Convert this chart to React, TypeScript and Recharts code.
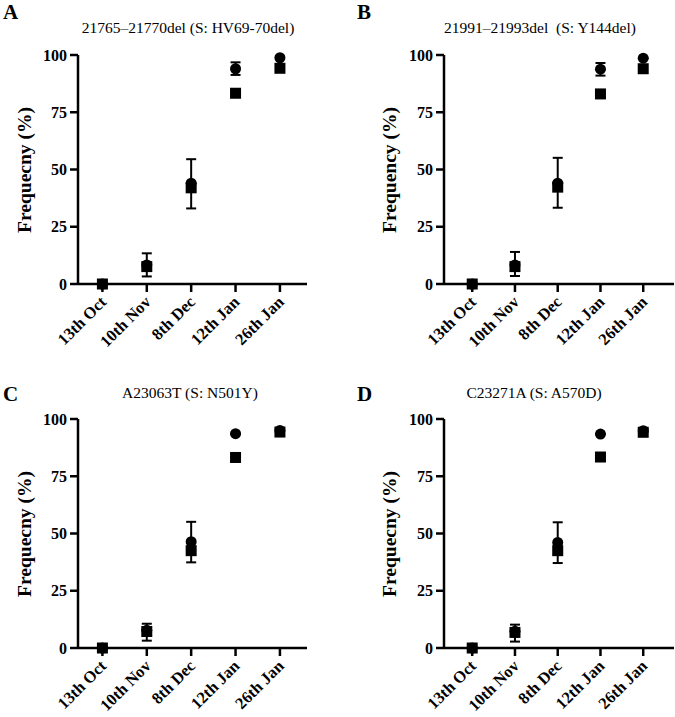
import React from "react";
import { ScatterChart, Scatter, XAxis, YAxis, ErrorBar } from "recharts";

const dates = ["13th Oct", "10th Nov", "8th Dec", "12th Jan", "26th Jan"];
const yTicks = [0, 25, 50, 75, 100];

// A: 21765-21770del
const aMean = [0, 8.3, 44, 94, 98.8];
const aLow = [0, 3.3, 33, 91.3, 98.8];
const aHigh = [0, 13.4, 54.5, 96.8, 98.8];
const aSquare = [0, 7.6, 42, 83.3, 94.2];

// B: 21991-21993del
const bMean = [0, 8.3, 44, 93.8, 98.6];
const bLow = [0, 3.5, 33.3, 91, 98.6];
const bHigh = [0, 14, 55.1, 96.5, 98.6];
const bSquare = [0, 7.6, 42.3, 83, 94];

// C: A23063T
const cMean = [0, 7.7, 46.4, 93.6, 95];
const cLow = [0, 3.2, 37.4, 93.6, 94.5];
const cHigh = [0, 10.6, 55.1, 93.6, 95.5];
const cSquare = [0, 7.2, 42.5, 83.2, 94.3];

// D: C23271A
const dMean = [0, 7.3, 46.1, 93.4, 94.9];
const dLow = [0, 2.8, 37.1, 93.4, 94.5];
const dHigh = [0, 10.2, 54.9, 93.4, 95.4];
const dSquare = [0, 6.8, 42.5, 83.4, 94.2];

const serif = '"Liberation Serif", "Times New Roman", serif';

const XTick = (props: any) => {
  const { x, y, payload } = props;
  return (
    <g transform={`translate(${x + 5},${y + 9})`}>
      <text
        x={0}
        y={0}
        textAnchor="end"
        transform="rotate(-45)"
        fontFamily={serif}
        fontWeight="bold"
        fontSize={16.5}
        fill="#000"
      >
        {dates[payload.value]}
      </text>
    </g>
  );
};

const Dot = (props: any) => <circle cx={props.cx} cy={props.cy} r={5.5} fill="#000" />;
const Square = (props: any) => (
  <rect x={props.cx - 5.5} y={props.cy - 5.5} width={11} height={11} fill="#000" />
);

function Panel({ letter, title, yLabel, mean, low, high, square, box, plot, xDomain, letterPos, titleX, titleY, labelX }: any) {
  const table = dates.map((d, i) => ({ x: i, y: mean[i], err: [mean[i] - low[i], high[i] - mean[i]] }));
  const squares = dates.map((d, i) => ({ x: i, y: square[i] }));
  const yAxisW = 40;
  const xAxisH = 60;
  const margin = {
    top: plot.top - box.top,
    left: plot.left - box.left - yAxisW,
    right: box.left + box.width - plot.right,
    bottom: box.top + box.height - plot.bottom - xAxisH,
  };
  return (
    <>
      <div style={{ position: "absolute", left: letterPos[0], top: letterPos[1], fontFamily: serif, fontWeight: "bold", fontSize: 21, lineHeight: 1 }}>
        {letter}
      </div>
      <div style={{ position: "absolute", left: titleX - 150, width: 300, top: titleY, textAlign: "center", fontFamily: serif, fontSize: 15.5, lineHeight: 1, whiteSpace: "pre" }}>
        {title}
      </div>
      <div
        style={{
          position: "absolute",
          left: labelX - 100,
          width: 200,
          top: (plot.top + plot.bottom) / 2 - 10,
          height: 20,
          lineHeight: "20px",
          textAlign: "center",
          transform: "rotate(-90deg)",
          fontFamily: serif,
          fontWeight: "bold",
          fontSize: 19.5,
          whiteSpace: "nowrap",
        }}
      >
        {yLabel}
      </div>
      <div style={{ position: "absolute", left: box.left, top: box.top }}>
        <ScatterChart width={box.width} height={box.height} margin={margin}>
          <XAxis
            type="number"
            dataKey="x"
            domain={xDomain}
            ticks={[0, 1, 2, 3, 4]}
            interval={0}
            height={xAxisH}
            tick={<XTick />}
            tickSize={8}
            stroke="#000"
            strokeWidth={2.5}
            allowDataOverflow
          />
          <YAxis
            type="number"
            dataKey="y"
            domain={[0, 100]}
            ticks={yTicks}
            interval={0}
            width={yAxisW}
            tickSize={8}
            tickMargin={3}
            stroke="#000"
            strokeWidth={2.5}
            tick={{ fill: "#000", fontFamily: serif, fontWeight: "bold", fontSize: 16 }}
          />
          <Scatter data={table} dataKey="y" shape={<Dot />} isAnimationActive={false}>
            <ErrorBar dataKey="err" direction="y" width={5} strokeWidth={2} stroke="#000" isAnimationActive={false} />
          </Scatter>
          <Scatter data={squares} dataKey="y" shape={<Square />} isAnimationActive={false} />
        </ScatterChart>
      </div>
    </>
  );
}

export default function App() {
  return (
    <div style={{ position: "absolute", left: 0, top: 0, width: 675, height: 717, background: "#fff", overflow: "hidden" }}>
      <Panel
        letter="A"
        title="21765–21770del (S: HV69-70del)"
        yLabel="Frequecny (%)"
        mean={aMean}
        low={aLow}
        high={aHigh}
        square={aSquare}
        box={{ left: 0, top: 0, width: 337, height: 358 }}
        plot={{ left: 78, right: 307, top: 55, bottom: 284 }}
        xDomain={[-0.55, 4.61]}
        letterPos={[3, 2]}
        titleX={188}
        titleY={20}
        labelX={25}
      />
      <Panel
        letter="B"
        title="21991–21993del  (S: Y144del)"
        yLabel="Frequency (%)"
        mean={bMean}
        low={bLow}
        high={bHigh}
        square={bSquare}
        box={{ left: 337, top: 0, width: 338, height: 358 }}
        plot={{ left: 444, right: 674, top: 55, bottom: 284 }}
        xDomain={[-0.66, 4.72]}
        letterPos={[357, 2]}
        titleX={540}
        titleY={20}
        labelX={390}
      />
      <Panel
        letter="C"
        title="A23063T (S: N501Y)"
        yLabel="Frequecny (%)"
        mean={cMean}
        low={cLow}
        high={cHigh}
        square={cSquare}
        box={{ left: 0, top: 360, width: 337, height: 357 }}
        plot={{ left: 78, right: 307, top: 419, bottom: 648 }}
        xDomain={[-0.55, 4.61]}
        letterPos={[3, 384]}
        titleX={190}
        titleY={385}
        labelX={25}
      />
      <Panel
        letter="D"
        title="C23271A (S: A570D)"
        yLabel="Frequecny (%)"
        mean={dMean}
        low={dLow}
        high={dHigh}
        square={dSquare}
        box={{ left: 337, top: 360, width: 338, height: 357 }}
        plot={{ left: 444, right: 674, top: 419, bottom: 648 }}
        xDomain={[-0.66, 4.72]}
        letterPos={[357, 384]}
        titleX={534}
        titleY={385}
        labelX={390}
      />
    </div>
  );
}
